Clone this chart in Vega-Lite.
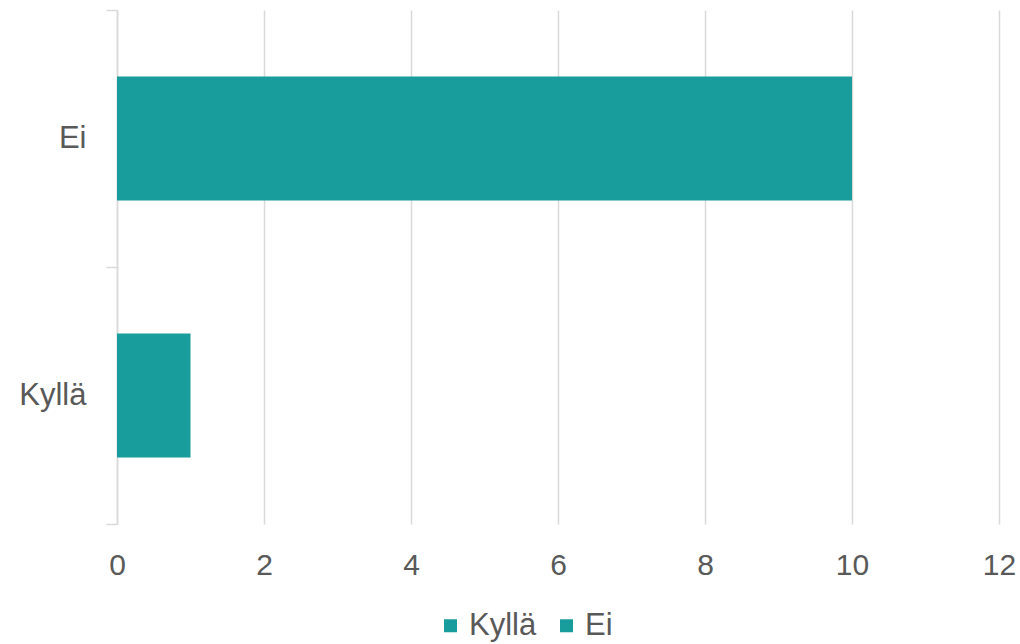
{
  "$schema": "https://vega.github.io/schema/vega-lite/v6.json",
  "width": 882,
  "height": 514,
  "autosize": "none",
  "padding": {"left": 117, "top": 10, "right": 21, "bottom": 120},
  "background": "white",
  "data": {"values": [
    {"kategoria": "Ei", "arvo": 10},
    {"kategoria": "Kyllä", "arvo": 1}
  ]},
  "mark": {"type": "bar", "color": "#189c9c", "height": {"band": 0.483}},
  "encoding": {
    "y": {
      "field": "kategoria", "type": "nominal", "sort": ["Ei", "Kyllä"],
      "scale": {"paddingInner": 0, "paddingOuter": 0},
      "axis": {
        "title": null, "grid": false, "tickBand": "extent",
        "domainColor": "#d9d9d9", "domainWidth": 1.5,
        "tickColor": "#d9d9d9", "tickWidth": 1.5, "tickSize": 11,
        "labelPadding": 20, "labelFontSize": 31, "labelFont": "Liberation Sans",
        "labelColor": "#595959"
      }
    },
    "x": {
      "field": "arvo", "type": "quantitative",
      "scale": {"domain": [0, 12], "nice": false},
      "axis": {
        "title": null, "values": [0, 2, 4, 6, 8, 10, 12],
        "domain": false, "ticks": false, "grid": true,
        "gridColor": "#d9d9d9", "gridWidth": 1.5,
        "labelPadding": 26, "labelFontSize": 30, "labelFont": "Liberation Sans",
        "labelColor": "#595959", "labelFlush": false
      }
    },
    "color": {
      "field": "kategoria", "type": "nominal",
      "scale": {"domain": ["Kyllä", "Ei"], "range": ["#189c9c", "#189c9c"]},
      "legend": {
        "title": null, "orient": "none", "direction": "horizontal",
        "legendX": 318, "legendY": 600,
        "symbolType": "square", "symbolSize": 169, "symbolStrokeWidth": 0,
        "labelFontSize": 31, "labelFont": "Liberation Sans", "labelColor": "#595959",
        "columnPadding": 14, "labelOffset": 3
      }
    }
  },
  "config": {"view": {"stroke": null}}
}
